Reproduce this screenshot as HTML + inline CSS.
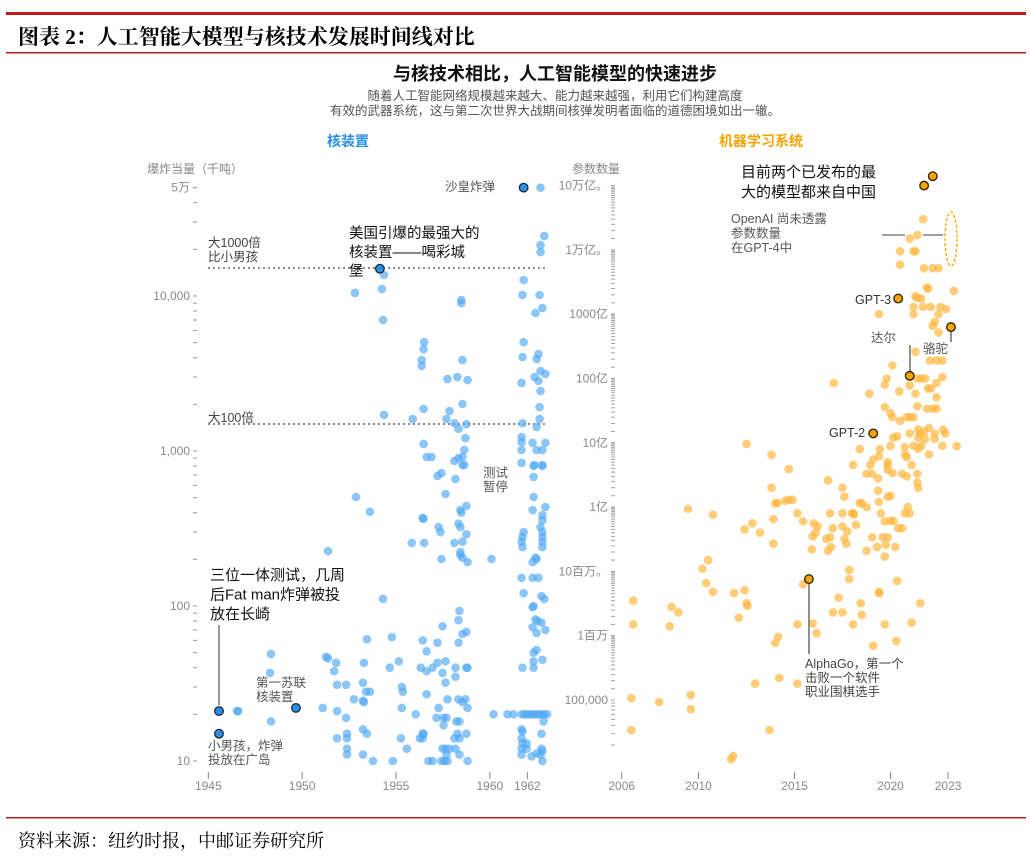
<!DOCTYPE html>
<html><head><meta charset="utf-8">
<style>
html,body{margin:0;padding:0;background:#fff;}
body{width:1030px;height:861px;position:relative;overflow:hidden;font-family:"Liberation Sans","Noto Sans CJK SC",sans-serif;}
svg text{font-family:"Liberation Sans","Noto Sans CJK SC",sans-serif;}
.serif{font-family:"Liberation Serif","Noto Serif CJK SC",serif;}
</style></head>
<body>
<svg id="chart" width="1030" height="861" viewBox="0 0 1030 861" xmlns="http://www.w3.org/2000/svg">
<rect x="6" y="12" width="1020" height="3" fill="#c0181f"/>
<text x="18" y="44" font-size="21" font-weight="bold" fill="#000" style="font-family:'Liberation Serif','Noto Serif CJK SC',serif">图表 2：人工智能大模型与核技术发展时间线对比</text>
<rect x="6" y="52" width="1020" height="1.5" fill="#c0181f"/>
<text x="555" y="80" font-size="18" font-weight="bold" text-anchor="middle" fill="#111">与核技术相比，人工智能模型的快速进步</text>
<text x="555" y="100" font-size="12.5" text-anchor="middle" fill="#555">随着人工智能网络规模越来越大、能力越来越强，利用它们构建高度</text>
<text x="555" y="115" font-size="12.5" text-anchor="middle" fill="#555">有效的武器系统，这与第二次世界大战期间核弹发明者面临的道德困境如出一辙。</text>
<text x="348" y="146" font-size="14" font-weight="bold" text-anchor="middle" fill="#2b8fe6">核装置</text>
<text x="761" y="146" font-size="14" font-weight="bold" text-anchor="middle" fill="#f5a300">机器学习系统</text>
<g id="left"></g>
<g id="right"></g>
<rect x="6" y="817" width="1020" height="1.5" fill="#c0181f"/>
<text x="18" y="847" font-size="18" fill="#000" style="font-family:'Liberation Serif','Noto Serif CJK SC',serif">资料来源：纽约时报，中邮证券研究所</text>
</svg>
<script>
// ---------- data: nuclear tests [year, yield kilotons] ----------
const nukeTests = [
[1962.9,24400],[1962.7,21300],[1962.7,19200],[1954.36,13660],[1952.81,10460],[1954.25,11100],[1954.31,7000],
[1958.48,9420],[1958.48,9000],[1961.8,12680],[1961.74,10150],[1962.65,10150],[1962.8,8370],[1962.43,7770],
[1956.5,5040],[1956.47,4540],[1956.37,3860],[1956.37,3540],[1958.54,3860],[1957.74,2910],[1958.27,3000],[1958.81,2870],[1958.54,2010],
[1961.8,5040],[1961.74,4040],[1962.49,3920],[1962.59,4220],[1962.7,3280],[1962.38,3000],[1962.59,2830],[1962.96,3140],[1961.69,2750],[1962.7,2440],[1962.65,1920],[1962.65,1610],[1962.49,1430],
[1956.47,1870],[1957.85,1810],[1955.89,1610],[1957.69,1610],[1954.36,1710],
[1958.11,1510],[1958.33,1390],[1958.75,1490],[1958.7,1210],[1958.64,1015],[1958.54,915],[1958.64,812],[1958.11,862],[1958.33,900],
[1961.74,1510],[1961.69,1230],[1961.69,1140],[1961.69,1015],[1961.69,837],[1962.28,1130],[1962.49,1015],[1962.8,1015],[1962.96,1130],[1962.38,812],[1962.8,812],
[1956.47,1110],[1956.63,915],[1956.89,915],
[1957.21,690],[1957.42,721],[1958.17,660],[1957.64,528],[1958.54,812],
[1952.87,505],[1953.61,405],[1958.43,416],[1958.48,400],[1958.75,442],[1956.42,370],[1956.47,365],[1957.27,323],[1957.37,300],[1958.33,340],[1958.43,323],[1958.75,290],
[1955.84,255],[1956.5,255],[1958.11,255],[1958.54,260],[1958.43,223],[1958.43,213],[1958.54,205],[1958.81,192],[1957.42,201],[1960.09,201],[1951.38,226],
[1962.33,800],[1962.8,800],[1962.33,680],[1962.33,505],[1962.28,416],[1962.96,435],[1962.8,386],[1962.8,358],[1962.7,323],[1962.8,300],[1962.8,279],[1962.8,260],[1962.8,240],
[1961.8,300],[1961.74,279],[1961.69,260],[1961.74,240],[1962.43,205],[1962.49,201],[1962.28,192],
[1961.69,152],[1962.28,152],[1962.59,152],[1961.8,121],[1962.75,116],[1962.9,111],[1962.33,100],[1962.28,98],[1962.43,82],[1962.54,80],[1962.75,78],[1962.28,73],[1962.49,67],[1962.96,70],[1962.49,52],[1962.33,50],[1962.33,44],[1962.33,40],[1962.8,45],[1961.74,40],
[1954.31,111],
[1961.7,20],[1961.85,20],[1962.0,20],[1962.15,20],[1962.3,20],[1962.45,20],[1962.6,20],[1962.75,20],[1962.9,20],[1963.05,20],[1960.2,20],[1960.94,20],[1961.26,20],
[1946.53,21],[1946.6,21],[1948.34,49],[1948.29,37],[1948.34,18],
[1951.1,22],[1951.86,21],[1952.34,19],[1951.86,14],[1952.39,15],[1952.39,14],[1952.39,12],[1952.39,11],
[1951.27,47],[1951.38,46],[1951.81,43],[1951.7,38],[1951.86,31],[1952.34,31],[1952.76,25],[1953.24,24.5],[1953.29,24],[1953.24,32],[1953.4,28],[1953.61,28],[1953.29,43],[1953.45,61],[1953.24,16],[1953.45,15],[1953.24,11],[1953.77,10],
[1954.78,63],[1955.15,44],[1954.67,40],[1955.31,30],[1955.37,28],[1955.31,22],[1956.05,20],[1955.26,14],[1955.58,12],[1954.83,10],
[1956.42,60],[1956.63,51],[1957.21,58],[1957.48,74],[1956.32,40],[1956.63,38],[1956.95,40],[1957.21,43],[1957.64,44],[1957.48,37],[1957.64,32],[1956.63,27],[1957.74,25],[1957.27,22],[1957.16,19],[1957.53,19],[1957.69,19],[1957.53,17],[1956.42,15],[1956.47,15],[1956.27,14],[1956.42,14],[1957.48,12],[1957.64,12],[1957.69,11],[1957.85,12],[1956.73,10],[1956.95,10],[1957.42,10],[1957.58,10],[1957.74,10],
[1958.38,93],[1958.33,81],[1958.54,66],[1958.75,68],[1958.33,58],[1958.17,40],[1958.75,40],[1958.81,40],[1958.17,35],[1958.33,25],[1958.7,25],[1958.54,24],[1958.81,22],[1958.22,18],[1958.38,18],[1958.27,15],[1958.75,15],[1958.38,14],[1958.11,14],[1958.17,12],[1958.38,11],[1958.81,10],
[1961.69,16],[1961.74,15.5],[1961.69,14],[1961.74,13],[1961.96,13],[1961.69,12],[1961.69,11],[1962.22,10.7],[1962.49,11.2],[1962.75,12],[1962.8,11.6],[1962.7,11],[1962.8,10],[1962.75,15],[1962.86,18],[1961.96,12],
[1962.7,50000]
];
const nukeHighlightNames = ["tsar-bomba","castle-bravo","trinity","little-boy","first-soviet"];
const nukeHighlights = [[1961.8,50000],[1954.14,15000],[1945.57,21],[1945.57,15],[1949.67,22]];
const nukeYTicks = [10,100,1000,10000,50000];
const nukeYLabels = ["10","100","1,000","10,000","5万"];
const nukeXTicks = [1945,1950,1955,1960,1962];

// ---------- data: ML systems [year, parameters] ----------
const mlSystems = [
[2021.7,3e12],[2021.0,1.5e12],[2021.4,1.7e12],[2020.5,9.5e11],[2021.2,9.5e11],[2021.3,9.5e11],[2020.5,5.9e11],
[2021.75,5.2e11],[2022.2,5.2e11],[2022.5,5.2e11],[2023.3,2.3e11],[2021.9,2.6e11],[2021.95,2.5e11],
[2021.3,1.9e11],[2021.4,1.8e11],[2021.6,1.75e11],[2021.2,1.3e11],[2021.7,1.3e11],[2022.1,1.3e11],[2022.6,1.3e11],[2022.9,1.2e11],
[2019.4,1e11],[2021.2,1e11],[2022.5,1e11],[2022.3,7.6e10],[2022.2,6.6e10],[2022.5,5.2e10],
[2021.3,2.6e10],[2022.05,1.9e10],[2022.4,1.9e10],[2022.7,1.9e10],[2020.1,1.6e10],[2019.8,1e10],[2021.4,1e10],[2021.6,1e10],[2021.8,1e10],[2022.7,1.05e10],
[2017.05,8.5e9],[2019.7,8e9],[2021.0,7.8e9],[2021.95,7e9],[2022.1,7e9],[2022.4,8.5e9],[2018.9,5.8e9],[2020.45,6.3e9],[2021.3,5.8e9],[2022.4,5.1e9],
[2019.7,3.6e9],[2020.0,2.9e9],[2020.1,2.5e9],[2021.4,3.7e9],[2021.9,3.4e9],[2022.2,3.4e9],[2022.4,3.4e9],[2020.85,2.5e9],[2021.0,2.5e9],[2021.2,2.5e9],[2020.5,2.2e9],
[2022.0,1.7e9],[2021.45,1.6e9],[2021.75,1.5e9],[2021.55,1.4e9],[2022.75,1.6e9],[2022.85,1.4e9],[2022.3,1.4e9],[2021.0,1.4e9],
[2020.35,1.26e9],[2020.15,1.2e9],[2021.45,1.2e9],[2021.8,1.15e9],[2022.3,1.15e9],[2023.45,8.9e8],[2021.2,9e8],[2021.6,9e8],[2022.7,9e8],
[2020.0,8.9e8],[2020.75,8.6e8],[2021.45,8.1e8],[2012.5,9.6e8],[2013.8,6.5e8],[2019.45,8e8],[2018.4,8e8],
[2019.4,6.2e8],[2019.1,5.5e8],[2019.85,5e8],[2022.0,6.6e8],[2020.75,6.5e8],[2020.85,6e8],[2018.05,4.5e8],[2018.95,4.5e8],[2019.85,4.5e8],[2021.1,4.5e8],[2014.7,3.9e8],
[2019.85,3.8e8],[2020.1,3.4e8],[2020.85,3e8],[2021.4,3.3e8],[2021.4,2.4e8],[2021.45,2e8],[2018.75,3.3e8],[2019.05,3.3e8],[2019.35,2.8e8],[2020.6,3.3e8],
[2016.75,2.6e8],[2017.5,2e8],[2013.8,2e8],[2017.6,1.45e8],[2019.35,1.8e8],[2020.0,1.5e8],[2019.85,1.45e8],[2019.4,1.2e8],
[2014.0,1.15e8],[2014.1,1.15e8],[2014.5,1.25e8],[2014.7,1.3e8],[2014.9,1.3e8],[2018.4,1.15e8],[2018.5,1.15e8],[2018.75,1e8],[2020.9,1e8],
[2009.45,9.4e7],[2016.85,8e7],[2017.5,8e7],[2018.0,8e7],[2018.05,8e7],[2018.1,7.7e7],[2015.15,8e7],[2010.75,7.6e7],[2019.5,8e7],[2020.75,8e7],[2021.0,8e7],
[2013.9,6.5e7],[2015.45,6e7],[2012.8,5.6e7],[2016.0,5.6e7],[2016.2,5e7],[2019.7,6e7],[2020.0,6.1e7],[2020.15,6.1e7],
[2017.5,5e7],[2018.2,5.3e7],[2017.75,4.2e7],[2017.0,4.7e7],[2012.4,4.5e7],[2013.2,4e7],[2020.4,4.7e7],[2020.6,4.7e7],[2016.1,4e7],[2015.95,3.5e7],
[2013.9,2.7e7],[2016.65,3.2e7],[2016.85,3.4e7],[2017.6,3.2e7],[2017.7,2.7e7],[2019.05,3.4e7],[2019.6,3.4e7],[2019.85,3.4e7],
[2015.9,2.2e7],[2016.75,2.1e7],[2016.9,2.4e7],[2018.75,2.1e7],[2019.3,2.4e7],[2019.75,2.6e7],[2020.25,2.4e7],[2019.7,1.7e7],
[2010.5,1.5e7],[2010.2,1.1e7],[2010.4,6.6e6],[2010.75,4.8e6],[2006.6,3.5e6],[2006.6,1.5e6],[2008.6,2.8e6],[2008.95,2.3e6],[2008.5,1.4e6],
[2011.85,4.6e6],[2012.4,5.1e6],[2012.5,3.2e6],[2012.55,2.9e6],[2012.1,1.9e6],[2015.45,6.3e6],
[2017.85,1.05e7],[2017.85,7.6e6],[2017.3,3.9e6],[2017.0,2.3e6],[2017.5,2.3e6],[2018.45,3.2e6],[2018.5,2.1e6],[2019.4,4.8e6],[2019.42,4.6e6],[2020.35,7.1e6],[2021.55,3.2e6],
[2015.15,1.5e6],[2015.95,1.55e6],[2016.15,1.1e6],[2018.05,1.5e6],[2019.7,1.5e6],[2021.1,1.6e6],
[2014.0,7.7e5],[2014.15,9.6e5],[2019.1,7e5],[2020.3,8.3e5],
[2012.95,1.8e5],[2014.2,2.2e5],[2015.15,1.8e5],[2006.5,1.07e5],[2007.95,9.3e4],[2009.6,1.2e5],[2009.6,7.2e4],
[2006.5,3.4e4],[2013.7,3.4e4],[2011.8,1.35e4],[2011.7,1.2e4]
];
const mlHighlightNames = ["largest-model-1","largest-model-2","gpt-3","llama","dalle","gpt-2","alphago"];
const mlHighlights = [[2022.2,1.4e13],[2021.75,1e13],[2020.4,1.75e11],[2023.15,6.3e10],[2021.0,1.1e10],[2019.1,1.4e9],[2015.75,7.6e6]];
const mlYTicks = [1e5,1e6,1e7,1e8,1e9,1e10,1e11,1e12,1e13];
const mlYLabels = ["100,000","1百万","10百万。","1亿","10亿","100亿","1000亿","1万亿。","10万亿。"];
const mlXTicks = [2006,2010,2015,2020,2023];

// ---------- scales ----------
const NS = "http://www.w3.org/2000/svg";
function nx(y){return 208.3+(y-1945)*18.77;}
function ny(v){return 761-(Math.log10(v)-1)*155;}
function mx(y){return 621.7+(y-2006)*19.2;}
function my(v){return 700-(Math.log10(v)-5)*64.3;}
function mk(tag,attrs,parent){const e=document.createElementNS(NS,tag);for(const k in attrs)e.setAttribute(k,attrs[k]);parent.appendChild(e);return e;}

const L=document.getElementById('left'), R=document.getElementById('right');

// left axis
mk('text',{x:147,y:173,'font-size':12,fill:'#888'},L).textContent='爆炸当量（千吨）';
for(let d=1;d<=4;d++){for(let m=1;m<=9;m++){const v=m*Math.pow(10,d);if(v>50000)break;
 const t=mk('line',{x1:193,x2:197,y1:ny(v),y2:ny(v),stroke:'#999','stroke-width':1},L);
 
 }}
{const t=mk('line',{x1:193,x2:197,y1:ny(50000),y2:ny(50000),stroke:'#999'},L);}
nukeYTicks.forEach((v,i)=>{const t=mk('text',{x:190,y:ny(v)+4,'font-size':12,fill:'#888','text-anchor':'end'},L);t.textContent=nukeYLabels[i];
 
 });
nukeXTicks.forEach(y=>{mk('line',{x1:nx(y),x2:nx(y),y1:772,y2:779,stroke:'#888'},L);
 const t=mk('text',{x:nx(y),y:790,'font-size':12,fill:'#888','text-anchor':'middle'},L);t.textContent=y;
 
 });
// reference lines
mk('line',{x1:208,x2:548,y1:268,y2:268,stroke:'#444','stroke-dasharray':'2,3','stroke-width':1.3},L);
mk('line',{x1:208,x2:548,y1:424,y2:424,stroke:'#444','stroke-dasharray':'2,3','stroke-width':1.3},L);
nukeTests.forEach(p=>{const c=mk('circle',{cx:nx(p[0]),cy:ny(p[1]),r:4.3,fill:'#4ea8f2','fill-opacity':0.65},L);
 
 });
nukeHighlights.forEach((p,i)=>{const c=mk('circle',{cx:nx(p[0]),cy:ny(p[1]),r:4.3,fill:'#2b8fe6',stroke:'#1a2a3a','stroke-width':1.3},L);
 
 });
mk('line',{x1:219,x2:219,y1:625,y2:705,stroke:'#555','stroke-width':1.2},L);
function txt(p,x,y,lines,size,color,lh,name){lines.forEach((s,i)=>{const t=mk('text',{x:x,y:y+i*lh,'font-size':size,fill:color},p);t.textContent=s;
 
 });}
txt(L,208,247,['大1000倍','比小男孩'],12.5,'#444',14,'x1000-label');
txt(L,208,422,['大100倍'],12.5,'#444',14,'x100-label');
txt(L,349,238,['美国引爆的最强大的','核装置——喝彩城','堡'],14.5,'#111',19,'castle-bravo-annotation');
txt(L,445,191,['沙皇炸弹'],12.5,'#555',14,'tsar-bomba-label');
txt(L,483,477,['测试','暂停'],12.5,'#555',14,'test-moratorium-label');
txt(L,210,580,['三位一体测试，几周','后Fat man炸弹被投','放在长崎'],15,'#111',19.5,'trinity-annotation');
txt(L,256,687,['第一苏联','核装置'],12.5,'#555',14,'first-soviet-label');
txt(L,208,750,['小男孩，炸弹','投放在广岛'],12.5,'#555',14,'little-boy-label');

// right axis
mk('text',{x:572,y:173,'font-size':12,fill:'#888'},R).textContent='参数数量';
for(let d=5;d<13;d++){for(let m=1;m<=10;m+=0.5){const v=m*Math.pow(10,d);
 const t=mk('line',{x1:611,x2:615,y1:my(v),y2:my(v),stroke:'#999','stroke-width':0.9},R);
 
 }}
for(let m=2;m<=9;m++){mk('line',{x1:611,x2:615,y1:my(m*1e4),y2:my(m*1e4),stroke:'#999','stroke-width':0.9},R);}
mlYTicks.forEach((v,i)=>{const t=mk('text',{x:608,y:my(v)+4,'font-size':12,fill:'#888','text-anchor':'end'},R);t.textContent=mlYLabels[i];
 
 });
mlXTicks.forEach(y=>{mk('line',{x1:mx(y),x2:mx(y),y1:772,y2:779,stroke:'#888'},R);
 const t=mk('text',{x:mx(y),y:790,'font-size':12,fill:'#888','text-anchor':'middle'},R);t.textContent=y;
 
 });
mlSystems.forEach(p=>{const c=mk('circle',{cx:mx(p[0]),cy:my(p[1]),r:4.3,fill:'#ffb63f','fill-opacity':0.7},R);
 
 });
// annotation lines
mk('line',{x1:882,x2:905,y1:235,y2:235,stroke:'#666','stroke-width':1.3},R);
mk('line',{x1:923,x2:943,y1:235,y2:235,stroke:'#666','stroke-width':1.3},R);
mk('ellipse',{cx:951,cy:239,rx:6,ry:27,fill:'none',stroke:'#f5a300','stroke-dasharray':'3,2','stroke-width':1.3},R);
mk('line',{x1:910,x2:910,y1:345,y2:372,stroke:'#555','stroke-width':1.3},R);
mk('line',{x1:951,x2:951,y1:330,y2:342,stroke:'#555','stroke-width':1.3},R);
mk('line',{x1:809,x2:809,y1:582,y2:654,stroke:'#555','stroke-width':1.3},R);
mlHighlights.forEach((p,i)=>{const c=mk('circle',{cx:mx(p[0]),cy:my(p[1]),r:4.3,fill:'#f5a300',stroke:'#2a2000','stroke-width':1.3},R);
 
 });
txt(R,741,177,['目前两个已发布的最','大的模型都来自中国'],15,'#111',20,'largest-models-annotation');
txt(R,731,223,['OpenAI 尚未透露','参数数量','在GPT-4中'],12.5,'#555',14.5,'gpt4-annotation');
txt(R,855,304,['GPT-3'],12.5,'#333',14,'gpt3-label');
txt(R,871,342,['达尔'],12.5,'#555',14,'dalle-label');
txt(R,923,353,['骆驼'],12.5,'#555',14,'llama-label');
txt(R,829,437,['GPT-2'],12.5,'#333',14,'gpt2-label');
txt(R,805,668,['AlphaGo，第一个','击败一个软件','职业围棋选手'],12.5,'#444',14,'alphago-annotation');
</script>
</body></html>
